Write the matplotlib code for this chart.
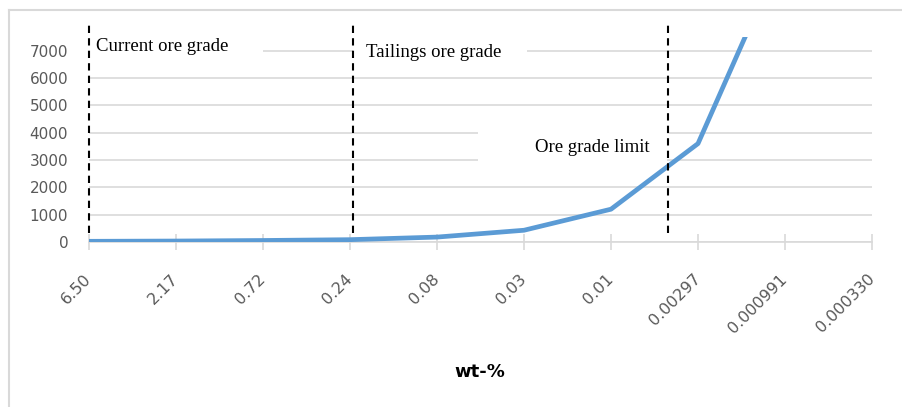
import matplotlib
matplotlib.use('Agg')
import matplotlib.pyplot as plt
import matplotlib.patches as mpatches
from matplotlib.lines import Line2D
import matplotlib.transforms as mtransforms

# Data
grades = ['6.50', '2.17', '0.72', '0.24', '0.08', '0.03', '0.01',
          '0.00297', '0.000991', '0.000330']
values = [25, 35, 55, 85, 180, 430, 1200, 3600, 10800, 32400]

# Marker lines (category positions) and their labels
marker_x = [0.0, 3.03, 6.65]
marker_labels = ['Current ore grade', 'Tailings ore grade', 'Ore grade limit']
label_pos = [(0.08, 7150), (3.18, 6930), (5.13, 3460)]
# white masks behind labels: (x0, x1, y0, y1) in data units
masks = [(0.0, 2.0, 6500, 7600), (3.03, 5.03, 6500, 7600), (4.47, 6.64, 2700, 4270)]

W, H = 903, 407
fig = plt.figure(figsize=(W / 100, H / 100), dpi=100)
ax = fig.add_axes([89 / W, 1 - 242 / H, (872 - 89) / W, (242 - 37) / H])

grid_c = '#d9d9d9'
tick_c = '#595959'
x = list(range(len(grades)))

ax.plot(x, values, color='#5b9bd5', linewidth=3.4, zorder=4, solid_capstyle='butt')

ax.set_xlim(0, len(grades) - 1)
ax.set_ylim(0, 7500)
ax.set_yticks(range(0, 7001, 1000))
ax.set_xticks(x)
ax.set_xticklabels(grades, rotation=45, ha='right', va='center', rotation_mode='anchor',
                   fontsize=11.5, color=tick_c, family='DejaVu Sans')
for lab in ax.get_yticklabels():
    lab.set_fontsize(11)
    lab.set_color(tick_c)
    lab.set_family('DejaVu Sans')

ax.grid(axis='y', color=grid_c, linewidth=1.2, zorder=0)
ax.set_axisbelow(True)
for s in ['top', 'right', 'left']:
    ax.spines[s].set_visible(False)
ax.spines['bottom'].set_color(grid_c)
ax.spines['bottom'].set_linewidth(1.2)
ax.tick_params(axis='y', length=0, pad=15)
ax.tick_params(axis='x', direction='inout', length=12, width=1.2, color=grid_c, pad=19)

# masks and labels
for (x0, x1, y0, y1) in masks:
    ax.add_patch(mpatches.Rectangle((x0, y0), x1 - x0, y1 - y0, facecolor='white',
                                    edgecolor='none', zorder=1, clip_on=False))
for txt, (tx, ty) in zip(marker_labels, label_pos):
    ax.text(tx, ty, txt, fontsize=13.5, family='Liberation Serif', color='black',
            va='center', ha='left', zorder=2)

# dashed vertical lines
trans = mtransforms.blended_transform_factory(ax.transData, ax.transAxes)
for mx in marker_x:
    ax.add_line(Line2D([mx, mx], [0.045, 1.08], transform=trans, color='black',
                       linewidth=1.5, linestyle=(0, (3.5, 2.5)), clip_on=False, zorder=5))

fig.text(480 / W, 1 - 372 / H, 'wt-%', ha='center', va='center', fontsize=13,
         fontweight='bold', family='DejaVu Sans')

# chart border (top and left visible)
fig.add_artist(Line2D([9 / W, 1], [1 - 10 / H, 1 - 10 / H], transform=fig.transFigure,
                      color=grid_c, linewidth=1.5))
fig.add_artist(Line2D([9 / W, 9 / W], [0, 1 - 10 / H], transform=fig.transFigure,
                      color=grid_c, linewidth=1.5))

fig.savefig('out.png', dpi=100)
